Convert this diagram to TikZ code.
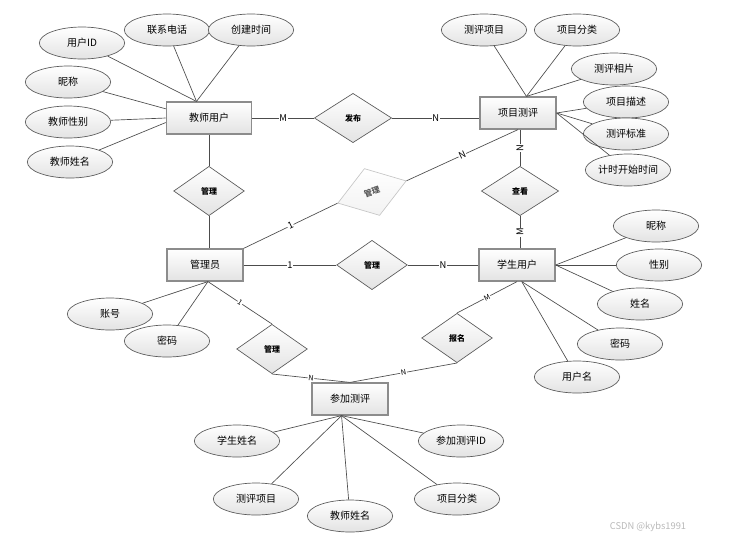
\documentclass[tikz,border=0pt]{standalone}
\usepackage{fontspec}
\setmainfont{Noto Sans CJK SC}
\usetikzlibrary{positioning}
\usetikzlibrary{shapes.geometric}

\begin{document}
\begin{tikzpicture}
	[x=0.75pt,y=-0.75pt,
	grad/.style={top color=white, bottom color=gray!22},
	entity/.style={rectangle, draw=gray!90, line width=0.9pt, grad, minimum width=57pt, minimum height=24pt, inner sep=1pt, font=\fontsize{7.5}{9}\selectfont},
	attr/.style={ellipse, draw=gray!70!black, line width=0.5pt, grad, minimum width=64pt, minimum height=24pt, inner sep=0pt, font=\fontsize{7.5}{9}\selectfont},
	rel/.style={diamond, aspect=1.4, draw=gray!70!black, line width=0.5pt, grad, minimum width=53pt, minimum height=37pt, inner sep=0pt, font=\bfseries\fontsize{6}{7}\selectfont},
	faint/.style={rel, draw=gray!45, top color=white, bottom color=gray!10, text=gray!70!black},
	link/.style={draw=gray!60!black, line width=0.5pt},
	card/.style={fill=white, inner sep=0.5pt, font=\fontsize{7}{8}\selectfont},
	tiny/.style={card, font=\fontsize{5.5}{6}\selectfont}]

\useasboundingbox (0,0) rectangle (729,540);

% entities
\node [entity, minimum width=64pt] (teacher) at (209,118) {教师用户};
\node [entity] (project) at (518,113) {项目测评};
\node [entity] (admin) at (205,265) {管理员};
\node [entity] (student) at (517,265) {学生用户};
\node [entity] (join) at (350,399) {参加测评};

% relations
\node [rel, minimum width=58pt] (publish) at (353,118) {发布};
\node [rel] (mgrA) at (209,191) {管理};
\node [faint, minimum width=54pt, rotate=18] (mgrB) at (372,192) {管理};
\node [rel, minimum width=58pt] (view) at (520,191) {查看};
\node [rel] (mgrC) at (372,265) {管理};
\node [rel] (mgrD) at (272,349) {管理};
\node [rel] (enrol) at (457,338) {报名};

% attributes
\node [attr] (t1) at (82,43) {用户ID};
\node [attr] (t2) at (167,30) {联系电话};
\node [attr] (t3) at (251,30) {创建时间};
\node [attr] (t4) at (68,82) {昵称};
\node [attr] (t5) at (68,122) {教师性别};
\node [attr] (t6) at (70,162) {教师姓名};

\node [attr] (p1) at (484,30) {测评项目};
\node [attr] (p2) at (577,30) {项目分类};
\node [attr] (p3) at (614,69) {测评相片};
\node [attr] (p4) at (626,102) {项目描述};
\node [attr] (p5) at (626,134) {测评标准};
\node [attr] (p6) at (628,170) {计时开始时间};

\node [attr] (s1) at (656,226) {昵称};
\node [attr] (s2) at (659,265) {性别};
\node [attr] (s3) at (640,304) {姓名};
\node [attr] (s4) at (620,344) {密码};
\node [attr] (s5) at (577,377) {用户名};

\node [attr] (a1) at (110,314) {账号};
\node [attr] (a2) at (167,341) {密码};

\node [attr] (j1) at (237,441) {学生姓名};
\node [attr] (j2) at (461,441) {参加测评ID};
\node [attr] (j3) at (256,499) {测评项目};
\node [attr] (j4) at (350,516) {教师姓名};
\node [attr] (j5) at (457,499) {项目分类};

\foreach \a in {t1,t2,t3}
	\draw [link] (\a) -- (teacher.127);
\draw [link] (t4) -- (teacher.168);
\draw [link] (t5) -- (teacher.west);
\draw [link] (t6) -- (teacher.186);
\foreach \a in {p1,p2,p3}
	\draw [link] (\a) -- (project.63);
\foreach \a in {p4,p5,p6}
	\draw [link] (\a) -- (project.east);
\foreach \a in {s1,s2,s3}
	\draw [link] (\a) -- (student.east);
\foreach \a in {s4,s5}
	\draw [link] (\a) -- (student.-74);
\foreach \a in {a1,a2}
	\draw [link] (\a) -- (admin.-80);
\foreach \a in {j1,j2,j3,j4,j5}
	\draw [link] (\a) -- (join.243);

% relation links
\draw [link] (teacher) -- node [card] {M} (publish);
\draw [link] (publish) -- node [card] {N} (publish -| project.west);
\draw [link] (teacher) -- (mgrA);
\draw [link] (mgrA.south) -- (mgrA.south |- admin.north);
\draw [link] (admin.north east) -- node [card, sloped] {1} (mgrB.west);
\draw [link] (mgrB.east) -- node [card, sloped] {N} (project.south);
\draw [link] (view.north |- project.south) -- node [card, rotate=90] {N} (view.north);
\draw [link] (view.south) -- node [card, rotate=90] {M} (view.south |- student.north);
\draw [link] (admin) -- node [card] {1} (mgrC);
\draw [link] (mgrC) -- node [card] {N} (student);
\draw [link] (admin.-80) -- node [tiny, sloped] {1} (mgrD.north);
\draw [link] (mgrD.south) -- node [tiny, sloped] {N} (join.north);
\draw [link] (student.south) -- node [tiny, sloped] {M} (enrol.north);
\draw [link] (enrol.south) -- node [tiny, sloped] {N} (join.north);

\node [text=gray!55, font=\fontsize{7}{8}\selectfont] (mark) at (648,527) {CSDN @kybs1991};

\end{tikzpicture}
\end{document}
